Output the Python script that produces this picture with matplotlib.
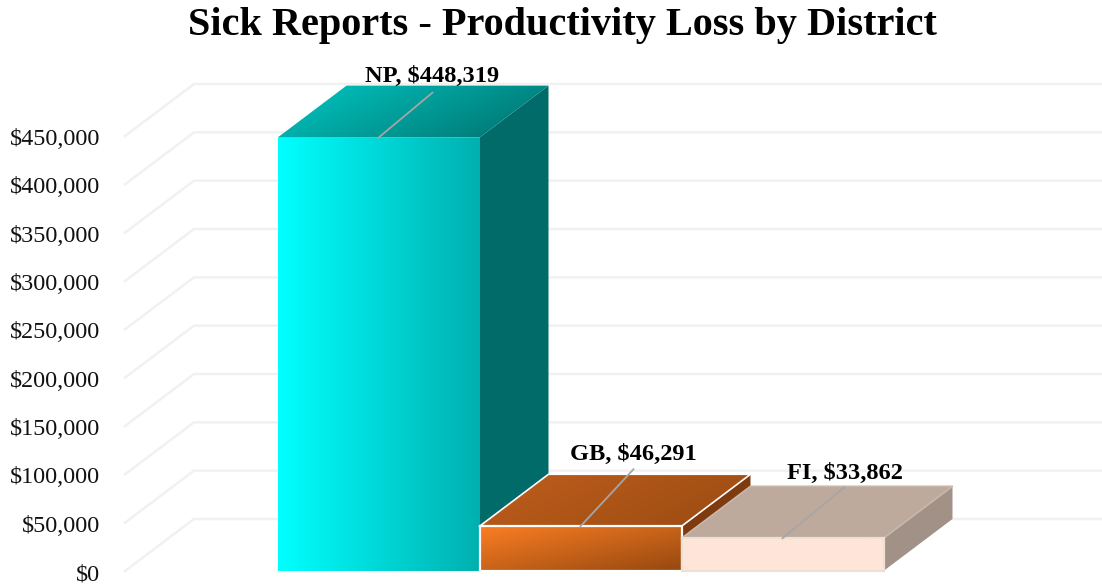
import numpy as np
import matplotlib
matplotlib.use("Agg")
import matplotlib.pyplot as plt
from matplotlib.colors import to_rgb
from matplotlib.patches import Polygon
from matplotlib.transforms import ScaledTranslation

plt.rcParams["font.family"] = ["Liberation Serif", "DejaVu Serif"]

districts = ["NP", "GB", "FI"]
losses = [448319, 46291, 33862]
y_ticks = [0, 50000, 100000, 150000, 200000, 250000, 300000, 350000, 400000, 450000]
title = "Sick Reports - Productivity Loss by District"

W, H = 1102, 584
BAR_W = 202.0
X0 = 277.5          # left edge of first bar, px
LEFT, RIGHT = 125, 1102
BOTTOM, TOP = 571, 136
DX, DY = 69, 52     # depth of the 3d box, px

fig = plt.figure(figsize=(W / 100, H / 100), dpi=100)
ax = fig.add_axes([LEFT / W, 1 - BOTTOM / H, (RIGHT - LEFT) / W, (BOTTOM - TOP) / H])
ax.set_xlim((LEFT - X0) / BAR_W - 0.5, (RIGHT - X0) / BAR_W - 0.5)
ax.set_ylim(0, 450000)
for s in ax.spines.values():
    s.set_visible(False)
ax.set_xticks([])
ax.set_yticks(y_ticks)
ax.set_yticklabels([f"${v:,}" for v in y_ticks], fontsize=17.4, color="#111111")
ax.tick_params(axis="y", length=0, pad=18)
# labels sit a bit lower than the tick position
for lab in ax.get_yticklabels():
    lab.set_transform(lab.get_transform() + ScaledTranslation(0, -1 / 100, fig.dpi_scale_trans))

# depth in data units
dx = DX / BAR_W
dy = DY / (BOTTOM - TOP) * 450000
px_y = (BOTTOM - TOP) / 450000


def shade(pts, c1, c2, wx, wy, zorder):
    # polygon filled with a linear gradient, wx and wy weight the bbox directions
    pts = np.array(pts, dtype=float)
    xmin, xmax = pts[:, 0].min(), pts[:, 0].max()
    ymin, ymax = pts[:, 1].min(), pts[:, 1].max()
    xx, yy = np.meshgrid(np.linspace(0, 1, 120), np.linspace(1, 0, 120))
    t = (xx * wx + (1 - yy) * wy) / (wx + wy)
    c1, c2 = np.array(to_rgb(c1)), np.array(to_rgb(c2))
    img = c1 + (c2 - c1) * t[..., None]
    im = ax.imshow(img, extent=[xmin, xmax, ymin, ymax], aspect="auto", zorder=zorder,
                   interpolation="bilinear")
    im.set_clip_path(Polygon(pts, transform=ax.transData))
    im.set_clip_box(fig.bbox)


ax.set_autoscale_on(False)

# gridlines: diagonal on the side wall, then along the back wall
x_left = ax.get_xlim()[0]
x_right = ax.get_xlim()[1]
for v in y_ticks:
    ax.plot([x_left, x_left + dx, x_right], [v, v + dy, v + dy], color="#f1f1f1", lw=1.8,
            clip_on=False, zorder=1, solid_joinstyle="miter")

front_cols = [("#00ffff", "#00b0b0", 1, 0), ("#fb7e23", "#954810", 1, 1), ("#fee5d8", "#fee5d8", 1, 0)]
top_cols = [("#00c8c3", "#006f6c", 1, 0.4), ("#bf5e1c", "#9a4b12", 1, 0.4), ("#bdaa9d", "#bdaa9d", 1, 0)]
side_cols = ["#006b68", "#7f3a0e", "#a29187"]
front_edges = [None, "#ffffff", "#efe0d6"]
top_edges = [None, "#ffffff", "#c8b8ac"]
leader_off = [(54, 45), (53, 57), (62, 51)]
label_off = [(54, 61), (53, 72), (62, 65)]

for i, (name, val) in enumerate(zip(districts, losses)):
    l, r = i - 0.5, i + 0.5
    front = [(l, 0), (r, 0), (r, val), (l, val)]
    top = [(l, val), (r, val), (r + dx, val + dy), (l + dx, val + dy)]
    side = [(r, 0), (r + dx, dy), (r + dx, val + dy), (r, val)]
    z = 3 + i * 2

    ax.add_patch(Polygon(side, closed=True, fc=side_cols[i], ec="none", zorder=z, clip_on=False))
    shade(top, *top_cols[i], z)
    shade(front, *front_cols[i], z + 1)
    if top_edges[i]:
        ax.plot([l, l + dx, r + dx, r], [val, val + dy, val + dy, val], color=top_edges[i],
                lw=1.2, zorder=z + 1, clip_on=False)
    if front_edges[i]:
        ax.add_patch(Polygon(front, closed=True, fc="none", ec=front_edges[i], lw=1.6, zorder=z + 1, clip_on=False))

    # leader line and label
    lx, ly = leader_off[i]
    ax.plot([i, i + lx / BAR_W], [val, val + ly / px_y], color="#a6a6a6", lw=1.3,
            zorder=20, clip_on=False)
    tx, ty = label_off[i]
    ax.text(i + tx / BAR_W, val + ty / px_y, f"{name}, ${val:,}", ha="center", va="center",
            fontsize=17.6, fontweight="bold", color="#000000", zorder=21, clip_on=False)

fig.text(562.5 / W, 1 - 26 / H, title, ha="center", va="center", fontsize=29, fontweight="bold",
         color="#000000")

fig.savefig("out.png", dpi=100)
